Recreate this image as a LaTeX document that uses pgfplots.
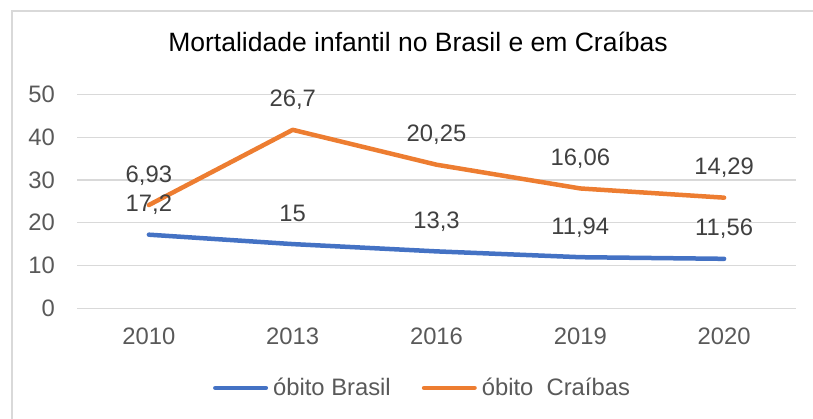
\documentclass[border=0pt]{standalone}
\usepackage{pgfplots}
\pgfplotsset{compat=1.18}
\usepackage{fontspec}
\setmainfont{Liberation Sans}
\definecolor{cblue}{HTML}{4472C4}
\definecolor{corange}{HTML}{ED7D31}
\definecolor{cgrid}{HTML}{D9D9D9}
\definecolor{ctext}{HTML}{595959}
\definecolor{clabel}{HTML}{404040}
\begin{document}
\begin{tikzpicture}
\useasboundingbox (0,0) rectangle (813bp,419bp);
\draw[cgrid, line width=1.2bp] (12bp,0) -- (12bp,408bp) -- (813bp,408bp);
\begin{axis}[
  at={(77bp,110.7bp)}, anchor=south west,
  scale only axis, width=719bp, height=214bp,
  xmin=-0.5, xmax=4.5, ymin=0, ymax=50,
  xtick={0,...,4}, xticklabels={2010,2013,2016,2019,2020},
  ytick={0,10,...,50},
  ymajorgrids, grid style={cgrid, line width=1.2bp},
  axis line style={draw=none}, major tick length=0pt,
  tick label style={font=\fontsize{23.8bp}{28bp}\selectfont, text=ctext},
  /pgf/number format/assume math mode=true,
  xticklabel style={anchor=north, inner sep=0pt, yshift=-19.2bp},
  yticklabel style={anchor=east, inner sep=0pt, xshift=-22bp},
  title={Mortalidade infantil no Brasil e em Craíbas},
  title style={at={(0.4743,1.1743)}, anchor=base, font=\fontsize{26.5bp}{30bp}\selectfont, text=black, inner sep=0pt},
  stack plots=y,
  clip=false,
  nodes near coords, point meta=explicit symbolic,
  nodes near coords style={anchor=base, yshift=23bp, inner sep=0pt, font=\fontsize{23.8bp}{28bp}\selectfont, text=clabel},
  legend columns=2,
  legend style={draw=none, fill=none, at={(0.189,-0.372)}, anchor=west, inner sep=0pt,
    nodes={inner sep=0pt}, font=\fontsize{23.8bp}{28bp}\selectfont, text=ctext,
    /tikz/every odd column/.append style={column sep=5bp},
    /tikz/every even column/.append style={column sep=31bp}},
  legend cell align=left,
  legend image code/.code={\draw[#1, line width=4.5bp, line cap=round] (2.25bp,0bp) -- (52.75bp,0bp);},
]
\addplot[cblue, line width=4.5bp, line cap=round, line join=round] coordinates {(0,17.2) [17,2] (1,15) [15] (2,13.3) [13,3] (3,11.94) [11,94] (4,11.56) [11,56]};
\addlegendentry{óbito Brasil}
\addplot[corange, line width=4.5bp, line cap=round, line join=round] coordinates {(0,6.93) [6,93] (1,26.7) [26,7] (2,20.25) [20,25] (3,16.06) [16,06] (4,14.29) [14,29]};
\addlegendentry{óbito\ \ Craíbas}
\end{axis}
\end{tikzpicture}
\end{document}
